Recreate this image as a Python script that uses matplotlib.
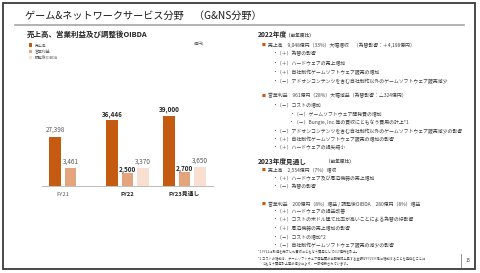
import matplotlib
matplotlib.use("Agg")
from matplotlib import pyplot as plt
from matplotlib.patches import Rectangle
from matplotlib.lines import Line2D
import numpy as np

plt.rcParams['font.family'] = ['Noto Sans CJK JP', 'DejaVu Sans']

categories = ['FY21', 'FY22', 'FY23見通し']
sales = [27398, 36446, 39000]
op_income = [3461, 2500, 2700]
oibda = [None, 3370, 3650]
series_names = ['売上高', '営業利益', '調整後OIBDA']

W, H = 480, 273
def fx(x):
    return x / W
def fy(y):
    return 1 - y / H

fig = plt.figure(figsize=(4.8, 2.73), dpi=100)
fig.patch.set_facecolor('white')

# slide frame, title and rule
fig.add_artist(Rectangle((fx(3), fy(269)), fx(472), 266 / H, transform=fig.transFigure,
                         fill=False, edgecolor='#3a3a3a', linewidth=1.3))
fig.text(fx(25), fy(16), 'ゲーム&ネットワークサービス分野　（G&NS分野）', fontsize=7.3,
         color='#1a1a1a', va='center')
fig.add_artist(Line2D([fx(15), fx(464)], [fy(25), fy(25)], transform=fig.transFigure,
                      color='#a6a6a6', linewidth=1.2))
fig.text(fx(27), fy(34), '売上高、営業利益及び調整後OIBDA', fontsize=5.4, color='#262626',
         va='center', fontweight='bold')
fig.text(fx(199), fy(43), '(億円)', fontsize=2.8, color='#595959', va='center', ha='center')

# chart
c_sales, c_op, c_oibda = '#C55A11', '#E3A47E', '#F8DFD0'
ax = fig.add_axes([fx(42), fy(186), 171 / W, 90 / H])
ax2 = ax.twinx()
x = np.arange(len(categories))
w = 0.2
off = 0.27

b1 = ax.bar(x - off, sales, w, color=c_sales, label=series_names[0])
b2 = ax2.bar(x, op_income, w, color=c_op, label=series_names[1])
ox = [i + off for i, v in enumerate(oibda) if v is not None]
ov = [v for v in oibda if v is not None]
b3 = ax2.bar(ox, ov, w, color=c_oibda, label=series_names[2])

ax.set_ylim(0, 50000)
ax2.set_ylim(0, 17300)
ax.set_xlim(-0.5, 2.5)
for a in (ax, ax2):
    for s in ('top', 'right', 'left'):
        a.spines[s].set_visible(False)
    a.set_yticks([])
    a.patch.set_visible(False)
ax2.spines['bottom'].set_visible(False)
ax.spines['bottom'].set_color('#bfbfbf')
ax.spines['bottom'].set_linewidth(0.8)

for i, v in enumerate(sales):
    bold = i > 0
    ax.annotate(f'{v:,}', (i - off, v), xytext=(0, 2), textcoords='offset points',
                ha='center', va='bottom', fontsize=4.6,
                fontweight='bold' if bold else 'normal',
                color='#262626' if bold else '#595959')
for i, v in enumerate(op_income):
    bold = i > 0
    ax2.annotate(f'{v:,}', (i, v), xytext=(0, -0.3 if bold else 2), textcoords='offset points',
                 ha='center', va='bottom', fontsize=4.6,
                 fontweight='bold' if bold else 'normal',
                 color='#262626' if bold else '#595959')
for xi, v in zip(ox, ov):
    ax2.annotate(f'{v:,}', (xi, v), xytext=(0, 2), textcoords='offset points',
                 ha='center', va='bottom', fontsize=4.6, color='#595959')

# category labels under the bars actually drawn
tick_pos = []
for i in range(len(categories)):
    xs = [i - off, i] + ([i + off] if oibda[i] is not None else [])
    tick_pos.append(np.mean(xs))
ax.set_xticks(tick_pos)
ax.set_xticklabels(categories, fontsize=4.2)
ax.tick_params(axis='x', length=0, pad=4)
for i, t in enumerate(ax.get_xticklabels()):
    if i > 0:
        t.set_fontweight('bold')
        t.set_color('#262626')
    else:
        t.set_color('#595959')

fig.legend(handles=[b1, b2, b3], loc='upper left', bbox_to_anchor=(fx(27), fy(41.5)),
           fontsize=2.8, handlelength=0.9, handleheight=0.9, labelspacing=0.45,
           frameon=False, borderpad=0, handletextpad=0.5, labelcolor='#595959')

# commentary on the right
TX = '#404040'
BUL = '#C55A11'
fs = 3.5
L1, L2, L3 = 262, 272, 289

def heading(y, main, sub, sub_x):
    fig.text(fx(258), fy(y), main, fontsize=4.8, fontweight='bold', color='#262626', va='center')
    fig.text(fx(sub_x), fy(y), sub, fontsize=3.3, fontweight='bold', color='#404040', va='center')

def bullet(y, text):
    fig.text(fx(L1), fy(y), '■', fontsize=2.8, color=BUL, va='center')
    fig.text(fx(L1 + 6), fy(y), text, fontsize=fs, color=TX, va='center')

def item(y, text, x=L2):
    fig.text(fx(x), fy(y), '・' + text, fontsize=fs, color=TX, va='center')

heading(35, '2022年度', '（前年度比）', 286)
bullet(45, '売上高　9,048億円（33%）大幅増収　（為替影響：＋4,198億円）')
item(54, '（＋）為替の影響')
item(63, '（＋）ハードウェアの売上増加')
item(72, '（＋）自社制作ゲームソフトウェア販売の増加')
item(81, '（－）アドオンコンテンツを含む自社制作以外のゲームソフトウェア販売減少')
bullet(96, '営業利益　961億円（28%）大幅減益（為替影響：△324億円）')
item(105, '（－）コストの増加')
item(114, '（－）ゲームソフトウェア開発費の増加', L3)
item(122, '（－）Bungie, Inc.等の買収にともなう費用の計上*1', L3)
item(131, '（－）アドオンコンテンツを含む自社制作以外のゲームソフトウェア販売減少の影響')
item(139, '（＋）自社制作ゲームソフトウェア販売の増加の影響')
item(147, '（＋）ハードウェアの損失縮小')

heading(161, '2023年度見通し', '（前年度比）', 326)
bullet(170, '売上高　2,554億円（7%）増収')
item(179, '（＋）ハードウェア及び周辺機器の売上増加')
item(187, '（－）為替の影響')
bullet(204, '営業利益　200億円（8%）増益 / 調整後OIBDA　280億円（8%）増益')
item(212, '（＋）ハードウェアの損益改善')
item(220, '（＋）コストの米ドル建て比率が高いことによる為替の好影響')
item(228, '（＋）周辺機器の売上増加の影響')
item(237, '（－）コストの増加*2')
item(245, '（－）自社制作ゲームソフトウェア販売の減少の影響')

fn = 2.3
fig.text(fx(258), fy(252), '*1 FY22に取得を完了した買収にともなう費用として617億円を計上。',
         fontsize=fn, color=TX, va='center')
fig.text(fx(258), fy(259.5), '*2 コストの増加は、ゲームソフトウェア開発費の当期償却上昇する金額がFY23以降に増加することを見込むことに',
         fontsize=fn, color=TX, va='center')
fig.text(fx(262), fy(264.5), 'ともなう費用計上等の減少により、一部相殺されています。',
         fontsize=fn, color=TX, va='center')
fig.add_artist(Line2D([fx(461), fx(461)], [fy(254), fy(267)], transform=fig.transFigure,
                      color='#7f7f7f', linewidth=0.6))
fig.text(fx(468), fy(260), '15', fontsize=3.2, color='#404040', va='center', ha='center')

fig.savefig('out.png', dpi=100, facecolor='white')
